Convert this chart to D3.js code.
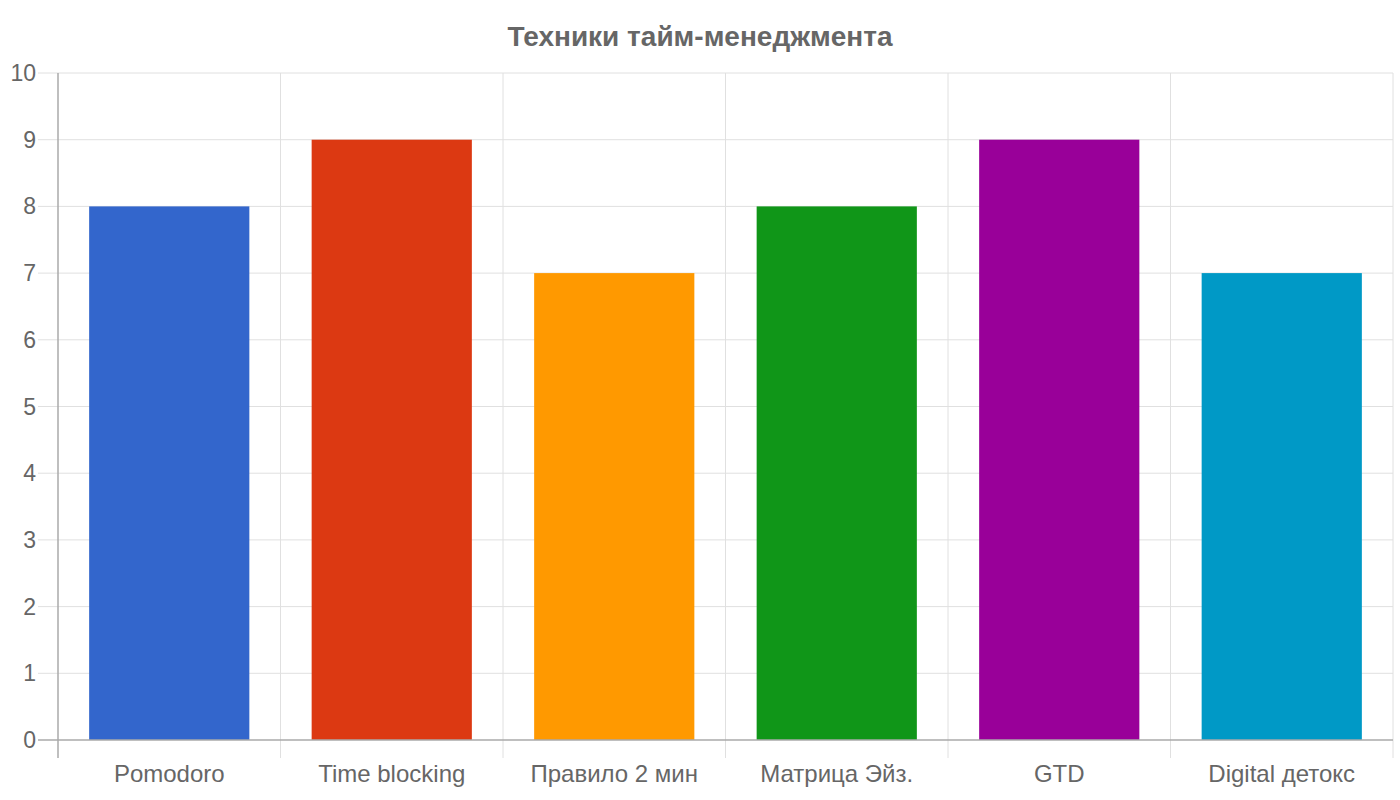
<!DOCTYPE html>
<html>
<head>
<meta charset="utf-8">
<script src="https://cdn.jsdelivr.net/npm/d3@7"></script>
<style>
  body { margin: 0; background: #fff; }
  text { font-family: "Liberation Sans", Arial, sans-serif; }
</style>
</head>
<body>
<div id="content"></div>
<script>
var categories = ["Pomodoro", "Time blocking", "Правило 2 мин", "Матрица Эйз.", "GTD", "Digital детокс"];
var values = [8, 9, 7, 8, 9, 7];
var colors = ["#3366cc", "#dc3912", "#ff9900", "#109618", "#990099", "#0099c6"];
var yTicks = [0, 1, 2, 3, 4, 5, 6, 7, 8, 9, 10];
var title = "Техники тайм-менеджмента";

var w = 1400, h = 800;
var margin = {top: 73, right: 7, bottom: 60, left: 58};
var textColor = "#666";
var gridColor = "#e0e0e0";
var axisColor = "#aaa";

var svg = d3.select("#content").append("svg")
    .attr("width", w)
    .attr("height", h);

var x0 = margin.left, x1 = w - margin.right;
var yTop = margin.top, yBot = h - margin.bottom;

var cells = d3.scaleBand().domain(categories).range([x0, x1]).padding(0);
var x = d3.scaleBand().domain(categories).range([x0, x1])
          .paddingInner(0.28).paddingOuter(0.14);
var y = d3.scaleLinear().domain([0, 10]).range([yBot, yTop]);

// horizontal grid + little ticks
svg.append("g")
   .selectAll("line")
   .data(yTicks.filter(function(d){ return d > 0; }))
   .enter()
   .append("line")
   .attr("x1", x0 - 20)
   .attr("x2", x1)
   .attr("y1", function(d){ return y(d); })
   .attr("y2", function(d){ return y(d); })
   .attr("stroke", gridColor)
   .attr("stroke-width", 1);

// vertical grid at band edges
var edges = categories.slice(1).map(function(c){ return cells(c); }).concat([x1]);
svg.append("g")
   .selectAll("line")
   .data(edges)
   .enter()
   .append("line")
   .attr("x1", function(d){ return d; })
   .attr("x2", function(d){ return d; })
   .attr("y1", yTop)
   .attr("y2", yBot + 18)
   .attr("stroke", gridColor)
   .attr("stroke-width", 1);

// bars
svg.append("g")
   .selectAll("rect")
   .data(values)
   .enter()
   .append("rect")
   .attr("x", function(d, i){ return x(categories[i]); })
   .attr("width", x.bandwidth())
   .attr("y", function(d){ return y(d); })
   .attr("height", function(d){ return y(0) - y(d); })
   .attr("fill", function(d, i){ return colors[i]; });

// axes lines
svg.append("line")
   .attr("x1", x0).attr("x2", x0)
   .attr("y1", yTop).attr("y2", yBot + 18)
   .attr("stroke", axisColor).attr("stroke-width", 1.5);
svg.append("line")
   .attr("x1", x0 - 20).attr("x2", x1)
   .attr("y1", yBot).attr("y2", yBot)
   .attr("stroke", axisColor).attr("stroke-width", 1.5);

// y labels
svg.append("g")
   .selectAll("text")
   .data(yTicks)
   .enter()
   .append("text")
   .text(function(d){ return d; })
   .attr("x", x0 - 22)
   .attr("y", function(d){ return y(d); })
   .attr("dy", "0.35em")
   .attr("text-anchor", "end")
   .attr("font-size", 23)
   .attr("fill", textColor);

// x labels
svg.append("g")
   .selectAll("text")
   .data(categories)
   .enter()
   .append("text")
   .text(function(d){ return d; })
   .attr("x", function(d){ return cells(d) + cells.bandwidth() / 2; })
   .attr("y", yBot + 42)
   .attr("text-anchor", "middle")
   .attr("font-size", 24)
   .attr("fill", textColor);

// title
svg.append("text")
   .text(title)
   .attr("x", w / 2)
   .attr("y", 46)
   .attr("text-anchor", "middle")
   .attr("font-size", 28)
   .attr("font-weight", "bold")
   .attr("fill", textColor);
</script>
</body>
</html>
